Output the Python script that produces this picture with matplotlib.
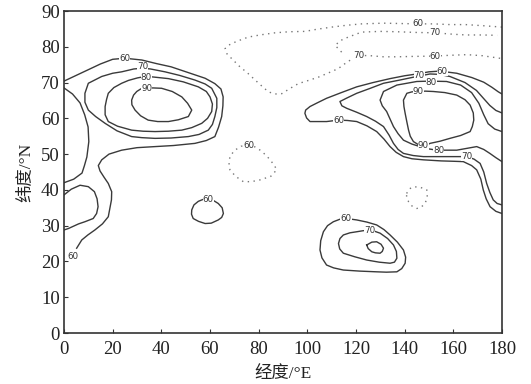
import matplotlib
matplotlib.use("Agg")
import matplotlib.pyplot as plt

# ---- contour lines (lon in deg E, lat in deg N) ----
# western blob
w60_lon = [0, 5, 10, 15, 20, 25, 32, 38, 44, 51, 58, 62, 64.5, 65.4, 65.3, 64.8, 63.5, 62, 58.5, 53.8,
           45, 37.4, 30, 23.7, 18.5, 15.5, 14.1, 14.8, 16.5, 18.2, 19.6, 19.5, 18.2, 15.8, 12.7, 9.8, 7.3, 5.2]
w60_lat = [70.4, 72, 73.6, 75.2, 76.5, 76.8, 76.3, 75.3, 74.4, 72.8, 71.2, 69.7, 68.2, 66, 63.5, 60.5, 57.5, 54.9, 53.8, 53,
           52.4, 52.1, 51.8, 51.1, 50, 48.4, 46.8, 45.3, 43.5, 41.8, 39.5, 37.2, 32.5, 30.5, 28.8, 27.4, 26, 23.7]
edge_lon = [0, 3.5, 6.6, 8.5, 9.9, 10.2, 9.4, 8.4, 7.4, 4, 0]
edge_lat = [68.5, 66.8, 64.3, 61, 57.6, 53.5, 49.2, 46.8, 44.7, 43, 42]
edge2_lon = [0, 3, 6.6, 10, 12.5, 13.6, 14, 13.4, 12, 8.6, 6, 1.8, 0]
edge2_lat = [38.6, 40.2, 41.3, 40.9, 39.5, 37.5, 35.3, 33.4, 32, 31.1, 30.5, 29.2, 28.8]
w70_lon = [32.2, 35.5, 41.5, 47.5, 53.8, 58, 60.7, 62.8, 62.8, 62, 61, 59.3, 55.5, 51.1, 44, 37.4, 32, 27.8,
           21.8, 16.9, 13, 10, 8.6, 8.6, 10, 15.5, 20, 23.7, 28.7, 32.2]
w70_lat = [74, 73.8, 73, 72, 70.7, 69.6, 68.4, 65.6, 63, 60.5, 58.3, 56.7, 55.5, 54.9, 54.5, 54.4, 54.6, 54.9,
           56.5, 58.6, 60.5, 62.3, 64.5, 67, 69.8, 71.7, 72.6, 73, 73.8, 74]
w80_lon = [33.3, 36, 42.9, 49, 55.2, 58.5, 60, 61, 60.7, 59, 56.6, 52.5, 48.4, 42.9, 37.4, 32.5, 27.8, 22,
           18.2, 16.9, 16.9, 17.5, 18.2, 20.5, 23.7, 26.5, 30.2, 33.3]
w80_lat = [71.7, 71.6, 71.1, 70.2, 68.8, 67.5, 66, 64, 61.9, 60, 58.6, 57.4, 56.7, 56.4, 56.3, 56.4, 56.7, 57.8,
           59.1, 61, 63.3, 65.3, 67, 68.6, 69.8, 70.6, 71.3, 71.7]
w90_lon = [34, 36.5, 40.1, 44.5, 48.4, 50.8, 52.5, 51.1, 47, 42.9, 38.5, 34.6, 31.5, 29.2, 27.9, 27.8, 28.6,
           29.9, 31.5, 34]
w90_lat = [68.4, 68.5, 68.4, 67.5, 66, 64.2, 62.3, 60.5, 59.6, 59.1, 59.1, 59.5, 60.7, 62.3, 63.8, 65.1, 66.5,
           67.5, 68.2, 68.4]
s60_lon = [59.3, 61.5, 63.4, 65, 65.5, 64.8, 63.4, 60.5, 58, 55.3, 53.1, 52.4, 52.5, 53.4, 55.2, 57, 59.3]
s60_lat = [37.2, 37, 36.2, 35, 33.4, 32.3, 31.6, 30.7, 30.6, 31.2, 32, 33.2, 34.4, 35.8, 36.8, 37.3, 37.2]

# eastern blob
e60_lon = [180, 178.5, 175.8, 172.5, 167.6, 161.4, 154.5, 150, 145, 140, 134, 127, 120.3, 114, 107.9, 104,
           101.1, 99.3, 99, 99.7, 101.1, 104, 107.9, 112.8, 116.5, 120.3, 124.5, 128.5, 131.5, 134, 136.5,
           139.5, 143, 147.7, 155, 160, 164.1, 167.5, 169.6, 171.3, 172.3, 173.5, 175.1, 177.5, 180]
e60_lat = [66.8, 67.4, 68.7, 70.1, 71.4, 72.6, 73.2, 73, 72.4, 71.9, 71.1, 70, 68.8, 67.2, 65.6, 64.3,
           63.3, 62.3, 61.4, 60.1, 59.1, 59.1, 59.1, 59.5, 59.4, 59.1, 57.9, 56.3, 54.2, 52.1, 50.5,
           49.3, 48.7, 48.4, 48.1, 48, 47.9, 46.8, 45.6, 43, 40, 37.5, 35.3, 34, 33.4]
e70_lon = [180, 177.5, 175, 172.5, 169.5, 164.8, 158.6, 154, 150.4, 145, 138, 131.3, 125.5, 120.3, 116, 113.4,
           114.2, 116.2, 120.3, 124.4, 128, 131.3, 133.6, 135.4, 137.3, 139.5, 143.5, 147.7, 155, 160, 165.5,
           168.5, 171, 172.5, 173.7, 175, 176.4, 178, 180]
e70_lat = [61.5, 62.2, 63.6, 65.5, 67.8, 70, 71.7, 72.3, 72.4, 71.7, 70.7, 69.8, 68.3, 67, 65.6, 64.7,
           63.5, 62.8, 61.7, 60.5, 59.2, 57.7, 55.3, 53, 51.3, 50.2, 49.6, 49.3, 49.3, 49.3, 49.3,
           48.6, 47.4, 45, 41.8, 39.3, 37.2, 36.2, 35.8]
e80_lon = [180, 177, 174.3, 172.5, 170.5, 167.5, 163, 157.2, 150.4, 145, 136.8, 131.3, 129.9, 130.8, 132.6,
           134, 135.4, 137.3, 139.5, 143, 146.3, 149.5, 153.2, 157, 161.4, 165.5, 169.6, 172.5, 175, 177.5, 180]
e80_lat = [56.3, 57, 58.5, 61, 64.2, 67.2, 69.3, 70.3, 70.4, 70.3, 69.3, 67.5, 65.1, 63.5, 61.9,
           59.8, 57.7, 55.7, 53.9, 52.8, 52.1, 51.5, 51.1, 51.1, 51.1, 51.6, 52.1, 51.3, 50.2, 49, 47.9]
e90_lon = [145.6, 148.5, 151.8, 156.5, 161.4, 164.8, 166.9, 168.2, 168.4, 167.8, 166.9, 163, 158.6, 154.5,
           150.4, 148.4, 145.5, 143.6, 142.3, 141.6, 140.9, 140.2, 139.7, 139.5, 140.9, 143, 145.6]
e90_lat = [67.5, 67.6, 67.5, 67.2, 66.5, 65.2, 63.7, 61.5, 59.5, 57.7, 56.3, 55.2, 54.4, 53.6,
           53, 52.2, 52.7, 53.5, 55, 56.7, 59, 61.4, 63.3, 65.1, 67, 67.4, 67.5]

# southern blob
b60_lon = [115.9, 118.2, 120.3, 124.5, 128.5, 131.5, 134, 137, 139.5, 140.4, 140.2, 138.8, 136.8, 132.5, 128.5,
           121.5, 114.8, 110.8, 107.9, 106, 105.2, 105.5, 106.6, 108.3, 110.7, 113.4, 115.9]
b60_lat = [32, 31.8, 31.6, 31, 30.2, 28.9, 27.4, 25.4, 23.2, 21.2, 19.5, 18, 17.1, 17, 17.1,
           17.3, 17.6, 18.2, 19, 21, 23.2, 25.8, 28.3, 30, 31.1, 31.8, 32]
b70_lon = [125.5, 127.8, 129.9, 133, 135.4, 136.6, 136.8, 135.8, 134, 129.5, 124.4, 119.5, 114.8, 113.3, 112.8,
           113.4, 114.8, 117.5, 120.3, 123, 125.5]
b70_lat = [28.6, 28.4, 27.9, 26.4, 24.6, 22.8, 20.9, 19.8, 19.5, 19.8, 20.4, 21.3, 22.3, 23.5, 25,
           26.4, 27.4, 28, 28.3, 28.6, 28.6]
b80_lon = [124.4, 126.5, 128.5, 130.3, 131.3, 130.8, 129.9, 128, 126.5, 125, 124.4]
b80_lat = [24.6, 25.4, 25.5, 24.8, 23.7, 22.8, 22.3, 22.4, 22.7, 23.6, 24.6]

# dotted contours
d1_lon = [180, 172, 165, 158.6, 152, 145.6, 138, 131.3, 122.3, 116, 110, 104, 99, 92.5, 86.7, 80.5, 75.7,
          72.5, 70.3, 67.8, 66.2, 67, 68.9, 72, 75.7, 80, 84, 86.7, 89.5, 93, 96.3, 100.5, 104.5, 108.7,
          112.7, 116.5, 121, 126, 131.3, 137, 143, 152.5, 158, 165.5, 172, 180]
d1_lat = [85.5, 85.9, 86.2, 86.2, 86.4, 86.4, 86.5, 86.6, 86.4, 86, 85.5, 84.9, 84.3, 84.2, 83.9, 83.3, 82.7,
          81.9, 81.3, 80.5, 79.5, 78, 76.7, 74.6, 72.5, 69.8, 67.4, 66.8, 66.9, 68.4, 69.7, 70.6, 71.5, 72.7,
          73.9, 75.8, 77.6, 77.5, 77.2, 77.2, 77.3, 77.4, 77.6, 77.8, 77.5, 76.7]
d2_lon = [114.1, 111.4, 113.8, 116.8, 122.3, 129.9, 137, 145, 152.5, 160, 165.5, 172, 178]
d2_lat = [78.5, 80.4, 81.8, 82.7, 84.1, 84.3, 84.2, 84, 83.9, 83.5, 83.3, 83.3, 83.2]
d3_lon = [75.8, 78.5, 80.6, 83, 84.7, 86.5, 87.4, 85, 80.6, 77, 73.7, 70.5, 68.2, 67.8, 68.2, 70, 72.8, 75.8]
d3_lat = [52.5, 52, 51.1, 49.7, 48.4, 46.8, 45.6, 43.8, 42.8, 42.3, 42.3, 43.8, 45.6, 47.5, 49.3, 51, 52.2, 52.5]
d4_lon = [140.8, 142, 143.6, 146.5, 149.1, 149.3, 148.4, 146.8, 145, 143, 141.6, 140.8, 140.8]
d4_lat = [39, 40.3, 40.9, 40.7, 40, 38, 36.2, 35.2, 34.8, 35.5, 36.7, 38, 39]

# contour labels
lab_lon = [25, 32.2, 33.8, 34, 3.5, 59.3, 112.8, 155.5, 146, 151, 145.6, 147.6, 154, 165.5,
           115.9, 125.5, 145.6, 152.5, 121, 152.5, 75.8]
lab_lat = [76.8, 74.4, 71.3, 68.2, 21.3, 37.2, 59.5, 73.1, 72, 70.1, 67.5, 52.4, 51.1, 49.3,
           32, 28.6, 86.4, 83.9, 77.6, 77.4, 52.5]
lab_txt = ["60", "70", "80", "90", "60", "60", "60", "60", "70", "80", "90", "90", "80", "70",
           "60", "70", "60", "70", "70", "60", "60"]

solid = [(w60_lon, w60_lat), (edge_lon, edge_lat), (edge2_lon, edge2_lat), (w70_lon, w70_lat),
         (w80_lon, w80_lat), (w90_lon, w90_lat), (s60_lon, s60_lat), (e60_lon, e60_lat),
         (e70_lon, e70_lat), (e80_lon, e80_lat), (e90_lon, e90_lat), (b60_lon, b60_lat),
         (b70_lon, b70_lat), (b80_lon, b80_lat)]
dotted = [(d1_lon, d1_lat), (d2_lon, d2_lat), (d3_lon, d3_lat), (d4_lon, d4_lat)]

serif = ["Liberation Serif", "Noto Sans CJK SC"]

fig = plt.figure(figsize=(5.31, 3.84), dpi=100)
ax = fig.add_axes([64 / 531, 51 / 384, 438 / 531, 322 / 384])

for x, y in solid:
    ax.plot(x, y, color="#3a3a3a", lw=1.0, solid_joinstyle="round")
for x, y in dotted:
    ax.plot(x, y, color="#777777", lw=1.0, linestyle=(0, (1, 3.2)))

for x, y, t in zip(lab_lon, lab_lat, lab_txt):
    ax.text(x, y, t, fontsize=6.3, color="#333333", ha="center", va="center",
            family="DejaVu Sans",
            bbox=dict(boxstyle="square,pad=0.0", fc="white", ec="none"))

ax.set_xlim(0, 180)
ax.set_ylim(0, 90)
ax.set_xticks(range(0, 181, 20))
ax.set_yticks(range(0, 91, 10))
ax.tick_params(axis="both", direction="in", length=3, width=0.8, color="#333333",
               labelsize=13.5, labelcolor="#222222")
ax.tick_params(axis="x", pad=5.5)
ax.tick_params(axis="y", pad=3)
for lab in ax.get_xticklabels() + ax.get_yticklabels():
    lab.set_family(serif)
for s in ax.spines.values():
    s.set_color("#333333")
    s.set_linewidth(1.2)

ax.set_xlabel("经度/°E", family=serif, fontsize=12.5, color="#222222", labelpad=6)
ax.set_ylabel("纬度/°N", family=serif, fontsize=12.5, color="#222222", labelpad=5)

fig.savefig("out.png", dpi=100)
